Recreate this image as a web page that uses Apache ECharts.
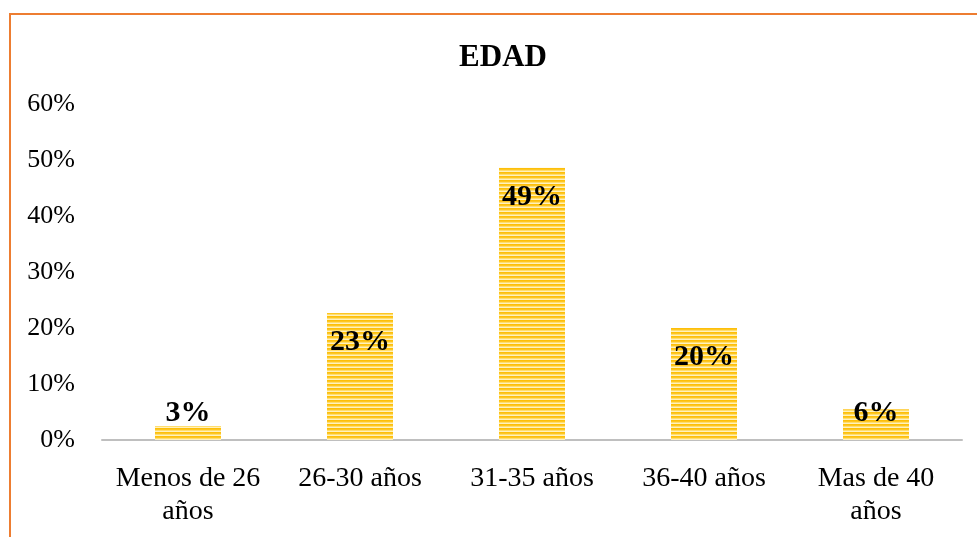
<!DOCTYPE html>
<html lang="es">
<head>
    <meta charset="utf-8">
    <title>EDAD</title>
    <style>
        * {
            margin: 0;
            padding: 0;
        }

        body {
            background: #fff;
        }

        .frame {
            position: absolute;
            left: 9px;
            top: 13px;
            width: 980px;
            height: 540px;
            border-left: 2px solid #ED7D31;
            border-top: 2px solid #ED7D31;
        }

        .chart-container {
            position: absolute;
            left: 0;
            top: 0;
            width: 977px;
            height: 537px;
        }
    </style>
</head>
<body>
<div class="frame"></div>
<div id="chart" class="chart-container"></div>
<script src="https://cdn.jsdelivr.net/npm/echarts@6/dist/echarts.min.js"></script>
<script>
    // datos
    const categories = ['Menos de 26\naños', '26-30 años', '31-35 años', '36-40 años', 'Mas de 40\naños'];
    const values = [2.5, 22.7, 48.6, 20.0, 5.5];
    const valueLabels = ['3%', '23%', '49%', '20%', '6%'];
    const yTicks = [0, 10, 20, 30, 40, 50, 60];

    // relleno rayado horizontal
    function stripes() {
        const c = document.createElement('canvas');
        c.width = 4;
        c.height = 4;
        const ctx = c.getContext('2d');
        const rows = ['#FDBF0A', '#FEC622', '#FFDE6E', '#FFF1BE'];
        rows.forEach(function (col, i) {
            ctx.fillStyle = col;
            ctx.fillRect(0, i, 4, 1);
        });
        return c;
    }

    const pattern = {image: stripes(), repeat: 'repeat'};

    const data = values.map(function (v, i) {
        let label;
        if (v < 10) {
            label = {position: 'insideBottom', distance: 12};
        } else {
            label = {position: 'insideTop', distance: 14};
        }
        label.formatter = valueLabels[i];
        return {value: v, label: label};
    });

    const myChart = echarts.init(document.getElementById('chart'), null, {renderer: 'canvas'});
    const option = {
        animation: false,
        title: {
            text: 'EDAD',
            left: 498,
            top: 37,
            textAlign: 'center',
            textStyle: {
                fontFamily: 'Liberation Serif',
                fontWeight: 'bold',
                fontSize: 31,
                color: '#000'
            }
        },
        grid: {
            left: 102,
            right: 15,
            top: 104,
            bottom: 97,
            containLabel: false
        },
        xAxis: {
            type: 'category',
            data: categories,
            axisLine: {lineStyle: {color: '#BFBFBF', width: 2}},
            axisTick: {show: false},
            axisLabel: {
                margin: 22,
                fontFamily: 'Liberation Serif',
                fontSize: 28,
                lineHeight: 33,
                color: '#000',
                interval: 0
            }
        },
        yAxis: {
            type: 'value',
            min: yTicks[0],
            max: yTicks[yTicks.length - 1],
            interval: 10,
            splitLine: {show: false},
            axisLine: {show: false},
            axisTick: {show: false},
            axisLabel: {
                margin: 27,
                formatter: '{value}%',
                fontFamily: 'Liberation Serif',
                fontSize: 26,
                color: '#000'
            }
        },
        series: [
            {
                type: 'bar',
                data: data,
                barWidth: 66,
                itemStyle: {color: pattern},
                label: {
                    show: true,
                    fontFamily: 'Liberation Serif',
                    fontWeight: 'bold',
                    fontSize: 30,
                    color: '#000'
                }
            }
        ]
    };
    myChart.setOption(option);
</script>
</body>
</html>
